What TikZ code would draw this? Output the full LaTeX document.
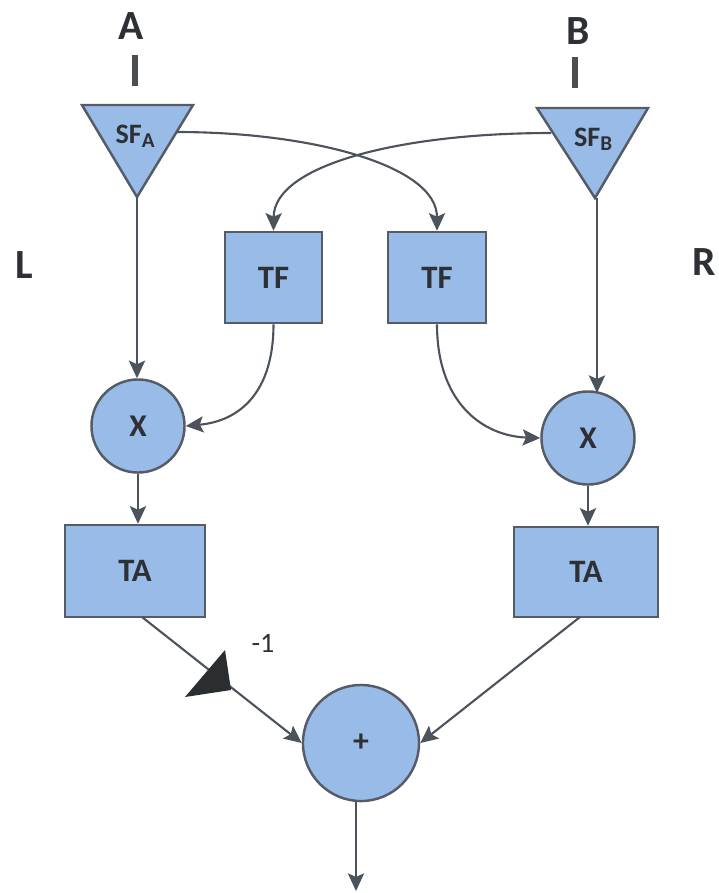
\documentclass[tikz,border=0pt]{standalone}
\usepackage{fontspec}
\setmainfont{Carlito}
\usetikzlibrary{arrows.meta}
\definecolor{boxfill}{RGB}{153,187,232}
\definecolor{boxline}{RGB}{85,92,102}
\definecolor{txt}{RGB}{45,48,52}
\tikzset{
  blk/.style={draw=boxline, line width=0.7pt, fill=boxfill, text=txt, inner sep=0pt},
  rbox/.style={blk, rectangle, font=\bfseries\fontsize{9.3}{10}\selectfont},
  cbox/.style={blk, circle, minimum size=0.93cm, font=\bfseries\fontsize{9}{10}\selectfont},
  arr/.style={draw=boxline!90!black, line width=0.6pt, -{Stealth[length=5pt,width=4.6pt,inset=1pt]}},
  lbl/.style={text=txt, font=\bfseries\fontsize{11.8}{13}\selectfont, inner sep=0pt},
  bar/.style={draw=txt!85, line width=1.8pt},
  sftxt/.style={text=txt, font=\bfseries\fontsize{8}{9}\selectfont},
}
\begin{document}
\begin{tikzpicture}[x=0.01cm, y=-0.01cm]
\useasboundingbox (0,0) rectangle (719,893);

% input labels
\node[lbl] (labA) at (131,26) {A};
\node[lbl] (labB) at (578,31) {B};
\coordinate (barAt) at (135,55); \coordinate (barAb) at (135,86);
\coordinate (barBt) at (575,57); \coordinate (barBb) at (575,88);
\draw[bar] (barAt) -- (barAb);
\draw[bar] (barBt) -- (barBb);
\node[lbl] (labL) at (24,265) {L};
\node[lbl] (labR) at (704,262) {R};

% SF triangles
\coordinate (sfa1) at (82,105); \coordinate (sfa2) at (193,105); \coordinate (sfaB) at (137,197);
\draw[blk] (sfa1) -- (sfa2) -- (sfaB) -- cycle;
\node[sftxt] (sfa) at (136,136) {SF\textsubscript{A}};
\coordinate (sfaE) at (177,132);

\coordinate (sfb1) at (537,108); \coordinate (sfb2) at (648,108); \coordinate (sfbB) at (595,198);
\draw[blk] (sfb1) -- (sfb2) -- (sfbB) -- cycle;
\node[sftxt] (sfb) at (594,139) {SF\textsubscript{B}};
\coordinate (sfbW) at (551,133);

% TF boxes
\node[rbox, minimum width=0.97cm, minimum height=0.91cm] (tfl) at (273.5,277.5) {TF};
\node[rbox, minimum width=0.98cm, minimum height=0.91cm] (tfr) at (437,277.5) {TF};

% multipliers
\node[cbox] (xl) at (138,426) {X};
\node[cbox] (xr) at (588,438) {X};

% TA boxes
\node[rbox, minimum width=1.40cm, minimum height=0.92cm] (tal) at (135,571) {TA};
\node[rbox, minimum width=1.44cm, minimum height=0.90cm] (tar) at (586,572) {TA};

% sum
\node[blk, circle, minimum size=1.16cm, font=\bfseries\fontsize{9}{10}\selectfont] (sum) at (361,743) {+};
\coordinate (out) at (356,891);

% gain -1
\coordinate (g1) at (185,697); \coordinate (g2) at (225,650); \coordinate (g3) at (231,690);
\node[text=txt, font=\fontsize{8}{9}\selectfont, inner sep=0pt] (gl) at (263,643) {-1};

% connectors
\draw[arr] (sfaE) .. controls (310,132) and (437,165) .. (tfr.north);
\draw[arr] (sfbW) .. controls (400,133) and (274,165) .. (tfl.north);
\draw[arr] (sfaB) -- (sfaB |- xl.north);
\draw[arr] (sfbB) ++(2,0) -- ++(0,195);
\draw[arr] (tfl.south) .. controls (273.5,392) and (240,421) .. (xl.east);
\draw[arr] (tfr.south) .. controls (437,402) and (482,436) .. (xr.west);
\draw[arr] (xl.south) -- (xl.south |- tal.north);
\draw[arr] (xr.south) -- (xr.south |- tar.north);
\coordinate (talS) at (142,617);
\coordinate (tarS) at (580,617);
\draw[arr] (talS) -- (sum.west);
\draw[arr] (tarS) -- (sum.east);
\draw[arr] (sum.south -| out) -- (out);
\fill[txt!95!black] (g1) -- (g2) -- (g3) -- cycle;
\end{tikzpicture}
\end{document}
